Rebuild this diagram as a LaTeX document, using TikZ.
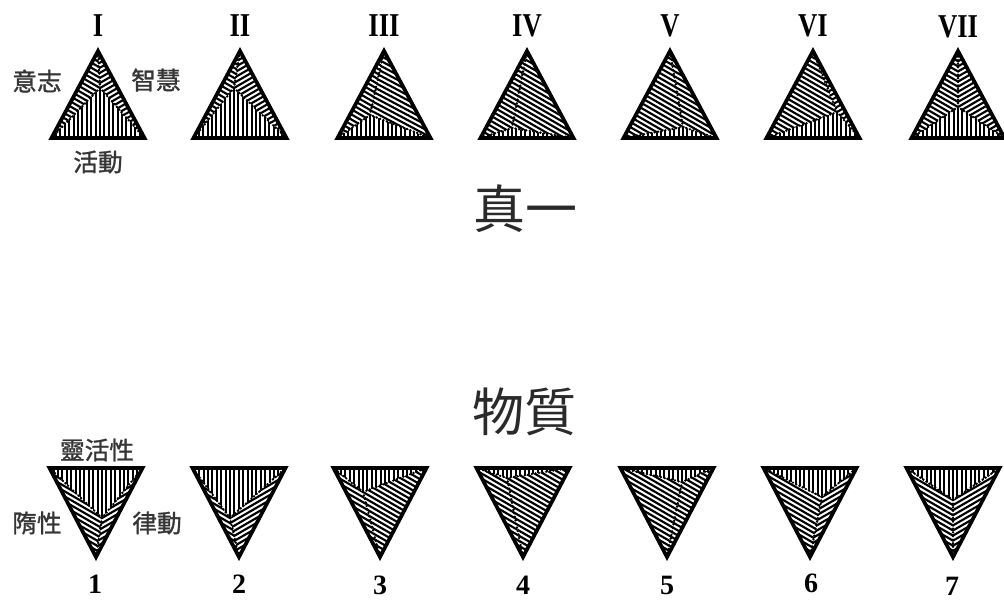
\documentclass[tikz,border=0pt]{standalone}
\usepackage{fontspec}
\setmainfont{Liberation Serif}
\newfontfamily\cjk{Noto Sans CJK TC}
\newfontfamily\cjkb[FakeBold=1.2]{Noto Sans CJK TC}
\definecolor{txtgray}{HTML}{353535}
\definecolor{bigtxt}{HTML}{2A2A2A}
\tikzset{
  hatchline/.style={line width=1.6pt,black},
  outline/.style={line width=2.8pt,black,line join=miter},
  divider/.style={line width=2pt,black,dash pattern=on 0pt off 2.7pt,line cap=round},
  numeral/.style={font=\bfseries\fontsize{25}{25}\selectfont,xscale=0.8,inner sep=0pt},
  digit/.style={font=\bfseries\fontsize{21}{21}\selectfont,inner sep=0pt},
  smalllabel/.style={font=\cjkb\fontsize{18.5}{18.5}\selectfont,text=txtgray,inner sep=0pt},
  biglabel/.style={font=\cjk\fontsize{39}{39}\selectfont,text=bigtxt,inner sep=0pt}
}
\newcommand\hatchregion[2]{%
  \begin{scope}
    \clip #1;
    \begin{scope}[shift={(P)},rotate=#2]
      \foreach \d in {-110,-105.6,...,110}{\draw[hatchline] (-140,\d)--(140,\d);}
    \end{scope}
  \end{scope}}
% #1 cx, #2 base y, #3 apex y, #4 P dx, #5 P y, #6 left angle, #7 right angle, #8 base angle
\newcommand\trifig[8]{%
  \coordinate (A) at (#1,#3);
  \coordinate (L) at ({#1-46.5},#2);
  \coordinate (R) at ({#1+46.5},#2);
  \coordinate (P) at ({#1+#4},#5);
  \hatchregion{(A)--(L)--(P)--cycle}{#6}
  \hatchregion{(A)--(R)--(P)--cycle}{#7}
  \hatchregion{(L)--(R)--(P)--cycle}{#8}
  \draw[divider] (P)--(A) (P)--(L) (P)--(R);
  \draw[outline] (A)--(L)--(R)--cycle;}
\begin{document}
\begin{tikzpicture}[x=0.75pt,y=-0.75pt]
\useasboundingbox (0,0) rectangle (1004,601);
\fill[white] (0,0) rectangle (1004,601);
% top row
\trifig{98}{138}{51}{2}{88}{-30}{30}{90}
\trifig{240}{138}{51}{-6}{88}{-30}{30}{90}
\trifig{384}{138}{51}{-14}{115}{-30}{-28}{90}
\trifig{527}{138}{51}{-15}{128}{-30}{-30}{90}
\trifig{670}{138}{51}{13}{127}{-30}{-30}{90}
\trifig{813}{138}{51}{24}{112}{-30}{30}{90}
\trifig{958}{138}{51}{0}{107}{-30}{30}{90}
% bottom row
\trifig{96}{468}{557}{6}{518}{-30}{30}{90}
\trifig{239}{468}{557}{-9}{518}{-30}{30}{90}
\trifig{380}{468}{557}{-17}{492}{-30}{-30}{90}
\trifig{523}{468}{557}{-16}{478}{-30}{-30}{90}
\trifig{667}{468}{557}{15}{482}{-30}{-30}{90}
\trifig{810}{468}{557}{12}{497}{-30}{30}{90}
\trifig{953}{468}{557}{0}{500}{-30}{30}{90}
% numerals
\node[numeral] (n1) at (98,26) {I};
\node[numeral] (n2) at (240,26) {II};
\node[numeral] (n3) at (384,26) {III};
\node[numeral] (n4) at (527,26) {IV};
\node[numeral] (n5) at (670,26) {V};
\node[numeral] (n6) at (813,26) {VI};
\node[numeral] (n7) at (958,27) {VII};
\node[digit] (d1) at (95,584) {1};
\node[digit] (d2) at (239,584) {2};
\node[digit] (d3) at (380,585) {3};
\node[digit] (d4) at (523,585) {4};
\node[digit] (d5) at (667,585) {5};
\node[digit] (d6) at (811,583) {6};
\node[digit] (d7) at (952,586) {7};
% labels
\node[smalllabel] (will) at (37,81) {意志};
\node[smalllabel] (wisdom) at (156,80) {智慧};
\node[smalllabel] (activity) at (98,162) {活動};
\node[smalllabel] (spirit) at (97,450) {靈活性};
\node[smalllabel] (inert) at (37,523) {隋性};
\node[smalllabel] (rhythm) at (157,523) {律動};
\node[biglabel] (one) at (525,209) {真一};
\node[biglabel] (matter) at (524,412) {物質};
\end{tikzpicture}
\end{document}
